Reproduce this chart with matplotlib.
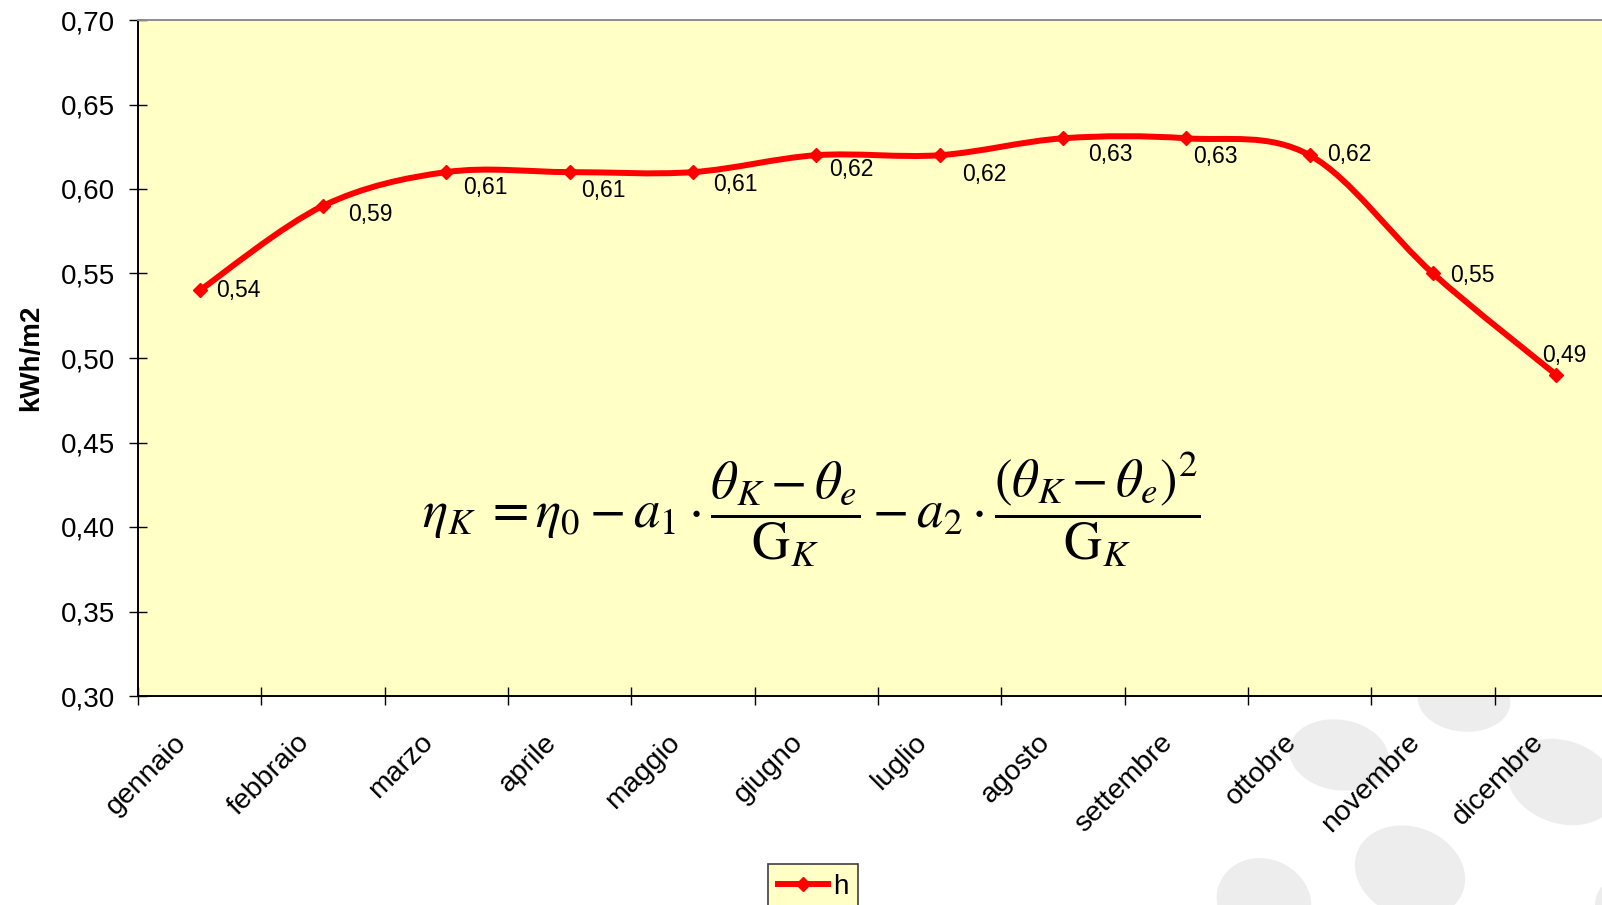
import numpy as np
import matplotlib.pyplot as plt
from matplotlib.path import Path
from matplotlib.patches import PathPatch, Ellipse
from matplotlib.lines import Line2D
from matplotlib.ticker import FuncFormatter
from matplotlib.transforms import ScaledTranslation

plt.rcParams['font.family'] = ['Liberation Sans', 'DejaVu Sans']
plt.rcParams['mathtext.fontset'] = 'stix'

mesi = ['gennaio', 'febbraio', 'marzo', 'aprile', 'maggio', 'giugno',
        'luglio', 'agosto', 'settembre', 'ottobre', 'novembre', 'dicembre']
h = [0.54, 0.59, 0.61, 0.61, 0.61, 0.62, 0.62, 0.63, 0.63, 0.62, 0.55, 0.49]
y_ticks = [0.30, 0.35, 0.40, 0.45, 0.50, 0.55, 0.60, 0.65, 0.70]

# label placement next to each point, pixels (right, down)
label_offsets = [(16, 0), (25, 9), (17, 15), (11, 18), (20, 12), (13, 14),
                 (22, 19), (25, 16), (7, 18), (17, -1), (17, 2), (-14, -19)]

# grey blobs of the slide background: centre x, centre y, w, h, angle (pixels)
blobs = [(1464, 700, 92, 64, 10), (1339, 755, 98, 72, 12),
         (1562, 782, 106, 88, 15), (1410, 872, 108, 94, 10),
         (1264, 902, 94, 88, 5), (1640, 905, 90, 70, 0)]

W, H = 1602, 905
fig = plt.figure(figsize=(W / 100, H / 100), dpi=100)
fig.patch.set_facecolor('white')

for cx, cy, bw, bh, ang in blobs:
    fig.patches.append(Ellipse((cx / W, 1 - cy / H), bw / W, bh / H, angle=ang,
                               transform=fig.transFigure, facecolor='#ededed',
                               edgecolor='none', zorder=-5))

ax = fig.add_axes([138 / W, 1 - 696 / H, 1480 / W, 676 / H])
ax.set_facecolor('#ffffc6')


def smooth_path(xs, ys):
    # cubic Bezier through every point, tension like spreadsheet smoothing
    pts = np.column_stack([xs, ys]).astype(float)
    n = len(pts)
    verts = [pts[0]]
    codes = [Path.MOVETO]
    for i in range(n - 1):
        p0 = pts[max(i - 1, 0)]
        p1, p2 = pts[i], pts[i + 1]
        p3 = pts[min(i + 2, n - 1)]
        verts += [p1 + (p2 - p0) / 6, p2 - (p3 - p1) / 6, p2]
        codes += [Path.CURVE4] * 3
    return Path(verts, codes)


x = np.arange(len(mesi))
ax.add_patch(PathPatch(smooth_path(x, h), facecolor='none', edgecolor='red',
                       lw=4.3, capstyle='round', joinstyle='round', zorder=3))
ax.plot(x, h, ls='none', marker='D', ms=7, color='red', zorder=4)

for xi, yi, (dx, dy) in zip(x, h, label_offsets):
    ax.annotate(f'{yi:.2f}'.replace('.', ','), (xi, yi), xytext=(dx, -dy),
                textcoords='offset pixels', ha='left', va='center',
                fontsize=16.5, color='black', zorder=5)

ax.text(0.455, 0.276,
        r'$\eta_K\; = \eta_0 - a_1 \cdot \dfrac{\theta_K - \theta_e}{\mathrm{G}_K}'
        r' - a_2 \cdot \dfrac{\left(\theta_K - \theta_e\right)^2}{\mathrm{G}_K}$',
        transform=ax.transAxes, ha='center', va='center', fontsize=38)

ax.set_xlim(-0.5, len(mesi) - 0.5)
ax.set_ylim(0.30, 0.70)
ax.set_yticks(y_ticks)
ax.yaxis.set_major_formatter(FuncFormatter(lambda v, p: f'{v:.2f}'.replace('.', ',')))

ax.set_xticks(np.arange(len(mesi) + 1) - 0.5)
ax.set_xticklabels([])
ax.set_xticks(x, minor=True)
ax.set_xticklabels(mesi, minor=True, rotation=45, ha='right', fontsize=20.5)
ax.tick_params(axis='x', which='minor', length=0, pad=24)
for lbl in ax.get_xticklabels(minor=True):
    lbl.set_transform(lbl.get_transform() + ScaledTranslation(-0.08, 0, fig.dpi_scale_trans))

ax.tick_params(axis='both', which='major', direction='inout', length=13,
               width=1, color='black', labelsize=20, pad=10)

ax.set_ylabel('kWh/m2', fontsize=20, fontweight='bold', va='center')
ax.yaxis.set_label_coords(-0.0723, 0.5)

ax.spines['left'].set_linewidth(1.4)
ax.spines['bottom'].set_linewidth(1.4)
ax.spines['top'].set_color('#8c8c8c')
ax.spines['top'].set_linewidth(1.4)
ax.spines['right'].set_visible(False)

leg = ax.legend(handles=[Line2D([], [], color='red', lw=4.3, marker='D', ms=7)],
                labels=['h'], loc='upper left',
                bbox_to_anchor=(768 / W, 1 - 864 / H), bbox_transform=fig.transFigure,
                fancybox=False, framealpha=1, facecolor='#ffffc6',
                edgecolor='#404040', fontsize=20, handlelength=1.8,
                handletextpad=0.2, borderpad=0.35, borderaxespad=0)
leg.get_frame().set_linewidth(1.2)

fig.savefig('out.png', dpi=100)
